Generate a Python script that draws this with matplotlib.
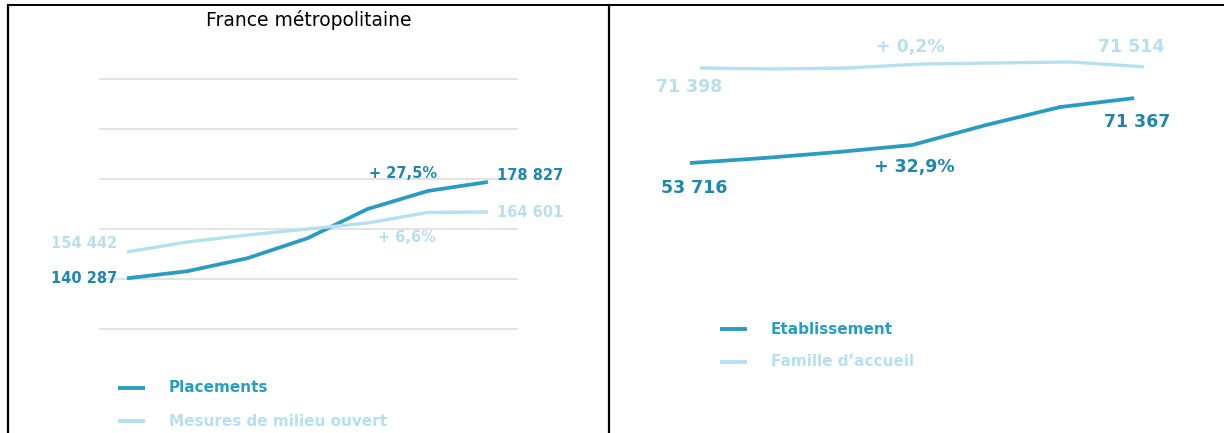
import matplotlib.pyplot as plt
from matplotlib.lines import Line2D

# données (7 années, non affichées)
annees = [1, 2, 3, 4, 5, 6, 7]
placements = [140287, 143100, 148300, 156300, 168000, 175200, 178827]
milieu_ouvert = [154442, 156980, 158760, 160280, 161800, 164500, 164601]
etablissement = [53716, 55070, 56700, 58600, 64040, 68930, 71367]
famille = [71398, 71300, 71398, 71800, 71900, 72000, 71514]

FONCE = '#2a9cc2'
FONCE_TXT = '#2087a9'
CLAIR = '#b5e0ee'
CLAIR_TXT = '#b9dfec'

W, H = 1224, 433
fig = plt.figure(figsize=(W / 100, H / 100), dpi=100)


def rect(x0, y0, x1, y1):
    # pixels (haut-gauche) -> coordonnées figure
    return [x0 / W, 1 - y1 / H, (x1 - x0) / W, (y1 - y0) / H]


def clean(ax):
    for s in ax.spines.values():
        s.set_visible(False)
    ax.set_xticks([])
    ax.set_yticks([])
    ax.patch.set_alpha(0)


# cadre du tableau
fig.add_artist(Line2D([8 / W, 8 / W], [0, 1 - 5 / H], color='black', lw=1.6))
fig.add_artist(Line2D([8 / W, 1], [1 - 5 / H, 1 - 5 / H], color='black', lw=1.4))
fig.add_artist(Line2D([609 / W, 609 / W], [0, 1 - 5 / H], color='black', lw=1.6))

fig.text(309 / W, 1 - 20 / H, 'France métropolitaine', ha='center', va='center',
         fontsize=13.5, color='black')

# ---- panneau gauche
ax1 = fig.add_axes(rect(99, 74, 518, 334))
x = list(range(len(annees)))
ax1.plot(x, placements, color=FONCE, lw=2.7, zorder=3, solid_capstyle='butt')
ax1.set_xlim(-0.465, 6.5)
ax1.set_ylim(118000, 222000)
for g in range(120000, 220001, 20000):
    ax1.axhline(g, color='#dedede', lw=1.2, zorder=0)
clean(ax1)

ax1b = fig.add_axes(rect(99, 74, 518, 334))
ax1b.plot(x, milieu_ouvert, color=CLAIR, lw=2.4, zorder=2, solid_capstyle='butt')
ax1b.set_xlim(-0.465, 6.5)
ax1b.set_ylim(154442 - 82 * 254, 154442 + 178 * 254)
clean(ax1b)

lab = dict(fontsize=10.5, fontweight='bold', textcoords='offset pixels')
ax1.annotate('140 287', (0, placements[0]), xytext=(-10, 0), ha='right', va='center',
             color=FONCE_TXT, **lab)
ax1b.annotate('154 442', (0, milieu_ouvert[0]), xytext=(-10, 8), ha='right', va='center',
              color=CLAIR_TXT, **lab)
ax1.annotate('178 827', (6, placements[-1]), xytext=(9, 6), ha='left', va='center',
             color=FONCE_TXT, **lab)
ax1b.annotate('164 601', (6, milieu_ouvert[-1]), xytext=(9, 0), ha='left', va='center',
              color=CLAIR_TXT, **lab)
ax1.annotate('+ 27,5%', (5, placements[5]), xytext=(-25, 18), ha='center', va='center',
             color=FONCE_TXT, **lab)
ax1b.annotate('+ 6,6%', (5, milieu_ouvert[5]), xytext=(-21, -25), ha='center', va='center',
              color=CLAIR_TXT, **lab)

# ---- panneau droit
ax2 = fig.add_axes(rect(660, 30, 1180, 200))
ax2.plot(x, etablissement, color=FONCE, lw=2.7, zorder=3, solid_capstyle='butt')
ax2.set_xlim(-0.405, 6.62)
ax2.set_ylim(53716 - 37 * 272, 53716 + 133 * 272)
clean(ax2)

ax2b = fig.add_axes(rect(670, 30, 1190, 200))
ax2b.plot(x, famille, color=CLAIR, lw=2.4, zorder=2, solid_capstyle='butt')
ax2b.set_xlim(-0.405, 6.62)
ax2b.set_ylim(71398 - 132 * 100, 71398 + 38 * 100)
clean(ax2b)

lab2 = dict(fontsize=12.5, fontweight='bold', textcoords='offset pixels',
            ha='center', va='center')
ax2.annotate('53 716', (0, etablissement[0]), xytext=(4, -25), color=FONCE_TXT, **lab2)
ax2.annotate('+ 32,9%', (3, etablissement[3]), xytext=(2, -22), color=FONCE_TXT, **lab2)
ax2.annotate('71 367', (6, etablissement[-1]), xytext=(3, -24), color=FONCE_TXT, **lab2)
ax2b.annotate('71 398', (0, famille[0]), xytext=(-11, -19), color=CLAIR_TXT, **lab2)
ax2b.annotate('+ 0,2%', (3, famille[3]), xytext=(-12, 17), color=CLAIR_TXT, **lab2)
ax2b.annotate('71 514', (6, famille[-1]), xytext=(-13, 20), color=CLAIR_TXT, **lab2)

# ---- légendes
def legende(x0, y, texte, couleur):
    fig.add_artist(Line2D([x0 / W, (x0 + 27) / W], [1 - y / H, 1 - y / H],
                          color=couleur, lw=2.8, solid_capstyle='butt'))
    fig.text((x0 + 51) / W, 1 - y / H, texte, color=couleur, fontsize=11,
             fontweight='bold', ha='left', va='center')


legende(118, 388, 'Placements', FONCE)
legende(118, 421, 'Mesures de milieu ouvert', CLAIR)
legende(720, 329, 'Etablissement', FONCE)
legende(720, 362, 'Famille d\u2019accueil', CLAIR)

fig.savefig('out.png', dpi=100)
